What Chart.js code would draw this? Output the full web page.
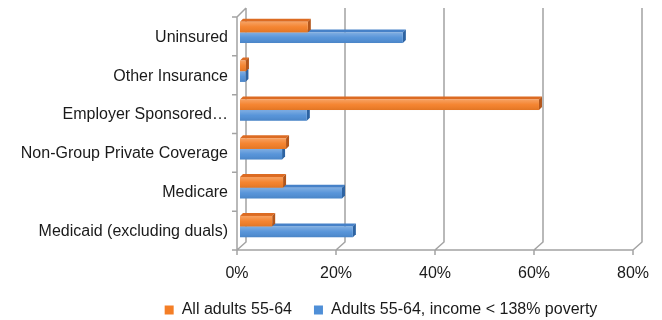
<!DOCTYPE html>
<html>
<head>
<meta charset="utf-8">
<script src="https://cdn.jsdelivr.net/npm/chart.js@4/dist/chart.umd.min.js"></script>
<style>
html, body { margin: 0; padding: 0; background: #fff; }
</style>
</head>
<body>
<canvas id="chart" width="662" height="320"></canvas>
<script>
var categories = ['Uninsured', 'Other Insurance', 'Employer Sponsored\u2026', 'Non-Group Private Coverage', 'Medicare', 'Medicaid (excluding duals)'];
var allAdults = [13.7, 1.2, 60.4, 9.3, 8.7, 6.5];
var lowIncome = [32.9, 1.1, 13.5, 8.5, 20.6, 22.8];
var xTicks = [0, 20, 40, 60, 80];
var seriesNames = ['All adults 55-64', 'Adults 55-64, income < 138% poverty'];

var FONT = "'Liberation Sans', Arial, Helvetica, sans-serif";
var colors = {
	orange: { front: '#F47E26', top: '#DC6B22', side: '#B3561B' },
	blue: { front: '#4F8FD7', top: '#4681C8', side: '#2D63A2' }
};
var GRID = '#a3a3a3';

// fake 3D: bar depth, frame offsets (bars sit a little above the category centre)
var DEPTH = 3;
var SHIFT = 4;
var FRONT_DX = -3, BACK_DX = 6, BACK_DY = -8;
var PLOT_TOP = 17 - SHIFT, PLOT_BOTTOM = 250 - SHIFT;
var PLOT_LEFT = 240, PLOT_RIGHT = 636;
var LEGEND_Y = 310, LEGEND_X = 381, LEGEND_H = 38;

function drawFaces(ctx, el, c) {
	var top = el.y - el.height / 2, bottom = el.y + el.height / 2;
	var x0 = el.base, x1 = el.x;
	ctx.fillStyle = c.top;
	ctx.beginPath();
	ctx.moveTo(x0, top);
	ctx.lineTo(x1, top);
	ctx.lineTo(x1 + DEPTH, top - DEPTH);
	ctx.lineTo(x0 + DEPTH, top - DEPTH);
	ctx.closePath();
	ctx.fill();
	ctx.fillStyle = c.side;
	ctx.beginPath();
	ctx.moveTo(x1, top);
	ctx.lineTo(x1 + DEPTH, top - DEPTH);
	ctx.lineTo(x1 + DEPTH, bottom - DEPTH);
	ctx.lineTo(x1, bottom);
	ctx.closePath();
	ctx.fill();
}

var box3d = {
	id: 'box3d',
	afterLayout: function(chart) {
		// legend sits right of centre and a bit lower in the original
		var lg = chart.legend;
		var dx = LEGEND_X - (lg.left + lg.right) / 2;
		var pad = lg.options.labels.padding, fs = lg.options.labels.font.size;
		var dy = (LEGEND_Y - pad - fs / 2) - lg.top;
		lg.left += dx; lg.right += dx;
		lg.top += dy; lg.bottom += dy;
	},
	beforeDatasetsDraw: function(chart) {
		var ctx = chart.ctx, xs = chart.scales.x, a = chart.chartArea;
		var floorY = a.bottom + SHIFT, frontTop = a.top + SHIFT;
		var backTop = frontTop - 9, backBottom = floorY + BACK_DY;
		ctx.save();
		ctx.strokeStyle = GRID;
		ctx.lineWidth = 1.5;
		ctx.beginPath();
		for (var i = 0; i < xTicks.length; i++) {
			var p = xs.getPixelForValue(xTicks[i]);
			ctx.moveTo(p + FRONT_DX, floorY);
			ctx.lineTo(p + BACK_DX, backBottom);
			ctx.lineTo(p + BACK_DX, backTop);
			// floor tick marks
			ctx.moveTo(p + FRONT_DX, floorY);
			ctx.lineTo(p + FRONT_DX, floorY + 5);
		}
		var p0 = xs.getPixelForValue(xTicks[0]) + FRONT_DX;
		var pN = xs.getPixelForValue(xTicks[xTicks.length - 1]) + FRONT_DX;
		ctx.moveTo(p0, floorY);
		ctx.lineTo(pN, floorY);
		// left wall front edge
		ctx.moveTo(p0, floorY);
		ctx.lineTo(p0, frontTop);
		ctx.lineTo(p0 + BACK_DX - FRONT_DX, backTop);
		// category tick marks
		var n = categories.length;
		for (var j = 0; j <= n; j++) {
			var y = frontTop + j * (floorY - frontTop) / n;
			ctx.moveTo(p0 - 5, y);
			ctx.lineTo(p0, y);
		}
		ctx.stroke();

		var keys = ['orange', 'blue'];
		for (var d = chart.data.datasets.length - 1; d >= 0; d--) {
			chart.getDatasetMeta(d).data.forEach(function(el) { drawFaces(ctx, el, colors[keys[d]]); });
		}
		ctx.restore();
	},
	afterDatasetsDraw: function(chart) {
		var ctx = chart.ctx;
		ctx.save();
		for (var d = 0; d < chart.data.datasets.length; d++) {
			chart.getDatasetMeta(d).data.forEach(function(el) {
				var top = el.y - el.height / 2;
				var g = ctx.createLinearGradient(0, top, 0, top + el.height);
				g.addColorStop(0, 'rgba(255,255,255,0.28)');
				g.addColorStop(0.5, 'rgba(255,255,255,0.05)');
				g.addColorStop(1, 'rgba(0,0,0,0.08)');
				ctx.fillStyle = g;
				ctx.fillRect(el.base, top, el.x - el.base, el.height);
			});
		}
		ctx.restore();
	}
};

var ctx = document.getElementById('chart').getContext('2d');
var chart = new Chart(ctx, {
	type: 'bar',
	data: {
		labels: categories,
		datasets: [{
			label: seriesNames[0],
			data: allAdults,
			backgroundColor: colors.orange.front,
			borderWidth: 0,
			categoryPercentage: 0.55,
			barPercentage: 1.0
		}, {
			label: seriesNames[1],
			data: lowIncome,
			backgroundColor: colors.blue.front,
			borderWidth: 0,
			categoryPercentage: 0.55,
			barPercentage: 1.0
		}]
	},
	options: {
		indexAxis: 'y',
		responsive: false,
		animation: false,
		layout: { padding: { top: PLOT_TOP, right: 662 - PLOT_RIGHT, left: 0, bottom: 0 } },
		scales: {
			x: {
				min: 0,
				max: 80,
				afterBuildTicks: function(scale) {
					scale.ticks = xTicks.map(function(v) { return { value: v }; });
				},
				afterFit: function(scale) {
					scale.height = 320 - PLOT_BOTTOM - LEGEND_H;
					scale.paddingLeft = 0;
					scale.paddingRight = 0;
				},
				grid: { display: false, drawTicks: false },
				border: { display: false },
				ticks: {
					padding: 14 + SHIFT,
					labelOffset: FRONT_DX,
					color: '#1a1a1a',
					font: { family: FONT, size: 16 },
					callback: function(v) { return v + '%'; }
				}
			},
			y: {
				afterFit: function(scale) {
					scale.width = PLOT_LEFT;
					scale.paddingTop = 0;
					scale.paddingBottom = 0;
				},
				grid: { display: false, drawTicks: false },
				border: { display: false },
				ticks: {
					padding: 12,
					labelOffset: SHIFT + 1,
					color: '#1a1a1a',
					font: { family: FONT, size: 16 }
				}
			}
		},
		plugins: {
			legend: {
				position: 'bottom',
				maxHeight: LEGEND_H,
				labels: {
					boxWidth: 9,
					boxHeight: 9,
					padding: 22,
					color: '#1a1a1a',
					font: { family: FONT, size: 16 }
				}
			},
			tooltip: { enabled: false }
		}
	},
	plugins: [box3d]
});
</script>
</body>
</html>
